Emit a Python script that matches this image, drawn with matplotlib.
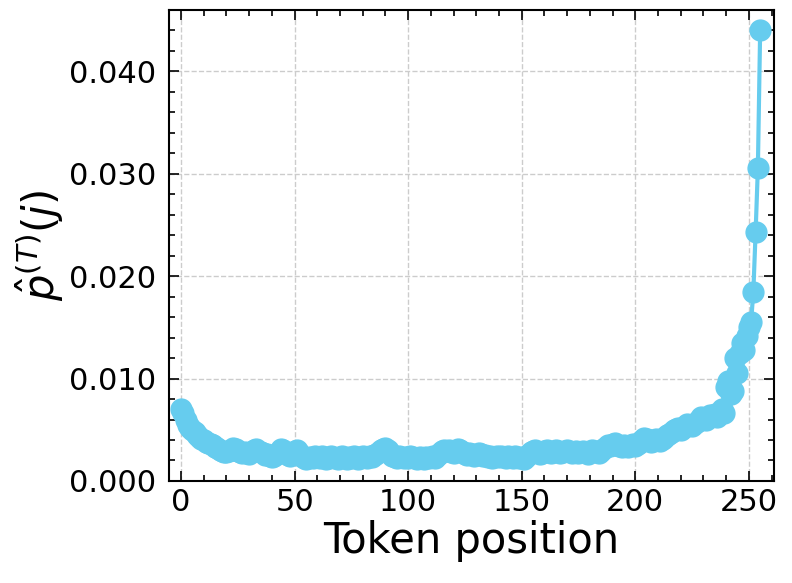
import numpy as np
import matplotlib
matplotlib.use("Agg")
import matplotlib.pyplot as plt
from matplotlib.ticker import MultipleLocator

positions = list(range(256))
probs = [
    0.0070, 0.0066, 0.0060, 0.0055, 0.0052, 0.0050, 0.0048, 0.0045, 0.0043, 0.0041,
    0.0040, 0.0038, 0.0037, 0.0036, 0.0035, 0.0033, 0.0032, 0.0030, 0.0029, 0.0028,
    0.0028, 0.0029, 0.0030, 0.0032, 0.0031, 0.0029, 0.0028, 0.0027, 0.0028, 0.0027,
    0.0026, 0.0028, 0.0030, 0.0031, 0.0029, 0.0028, 0.0027, 0.0025, 0.0026, 0.0024,
    0.0023, 0.0024, 0.0026, 0.0028, 0.0031, 0.0030, 0.0027, 0.0025, 0.0024, 0.0026,
    0.0029, 0.0030, 0.0027, 0.0024, 0.0022, 0.0021, 0.0022, 0.0023, 0.0022, 0.0024,
    0.0023, 0.0022, 0.0024, 0.0023, 0.0021, 0.0022, 0.0024, 0.0023, 0.0022, 0.0021,
    0.0023, 0.0024, 0.0022, 0.0021, 0.0023, 0.0022, 0.0024, 0.0023, 0.0021, 0.0022,
    0.0024, 0.0023, 0.0022, 0.0024, 0.0023, 0.0025, 0.0026, 0.0028, 0.0030, 0.0031,
    0.0032, 0.0030, 0.0027, 0.0024, 0.0023, 0.0022, 0.0024, 0.0023, 0.0022, 0.0023,
    0.0022, 0.0024, 0.0023, 0.0022, 0.0021, 0.0023, 0.0022, 0.0021, 0.0023, 0.0022,
    0.0023, 0.0024, 0.0022, 0.0025, 0.0027, 0.0029, 0.0030, 0.0029, 0.0030, 0.0028,
    0.0027, 0.0029, 0.0031, 0.0030, 0.0028, 0.0026, 0.0025, 0.0027, 0.0026, 0.0024,
    0.0025, 0.0027, 0.0026, 0.0024, 0.0025, 0.0023, 0.0024, 0.0022, 0.0023, 0.0024,
    0.0023, 0.0024, 0.0023, 0.0022, 0.0024, 0.0023, 0.0022, 0.0024, 0.0023, 0.0022,
    0.0023, 0.0021, 0.0023, 0.0026, 0.0028, 0.0029, 0.0030, 0.0028, 0.0026, 0.0027,
    0.0029, 0.0030, 0.0028, 0.0027, 0.0028, 0.0030, 0.0029, 0.0027, 0.0028, 0.0029,
    0.0030, 0.0029, 0.0027, 0.0028, 0.0029, 0.0027, 0.0028, 0.0029, 0.0028, 0.0026,
    0.0028, 0.0030, 0.0029, 0.0028, 0.0027, 0.0029, 0.0031, 0.0033, 0.0035, 0.0034,
    0.0036, 0.0037, 0.0035, 0.0034, 0.0033, 0.0035, 0.0034, 0.0033, 0.0035, 0.0036,
    0.0034, 0.0036, 0.0038, 0.0040, 0.0042, 0.0041, 0.0040, 0.0038, 0.0039, 0.0041,
    0.0040, 0.0039, 0.0041, 0.0043, 0.0045, 0.0046, 0.0048, 0.0050, 0.0051, 0.0052,
    0.0050, 0.0052, 0.0054, 0.0056, 0.0055, 0.0054, 0.0056, 0.0058, 0.0060, 0.0062,
    0.0061, 0.0060, 0.0062, 0.0064, 0.0063, 0.0065,
    0.0062, 0.0065, 0.0070, 0.0066, 0.0092, 0.0098, 0.0085, 0.0088, 0.0120, 0.0105,
    0.0125, 0.0135, 0.0128, 0.0142, 0.0150, 0.0155, 0.0185, 0.0243, 0.0306, 0.0440,
]

x_ticks = [0, 50, 100, 150, 200, 250]
y_ticks = [0.000, 0.010, 0.020, 0.030, 0.040]

fig = plt.figure(figsize=(7.92, 5.83), dpi=100)
ax = fig.add_axes([0.2134, 0.175, 0.7636, 0.808])

ax.plot(positions, probs, color="#66CCEE", lw=3, marker="o", ms=15, zorder=3)

ax.set_xlim(-5.3, 261)
ax.set_ylim(0, 0.046)
ax.set_xticks(x_ticks)
ax.set_yticks(y_ticks)
ax.set_yticklabels([f"{v:.3f}" for v in y_ticks])
ax.xaxis.set_minor_locator(MultipleLocator(10))
ax.yaxis.set_minor_locator(MultipleLocator(0.002))

ax.tick_params(which="both", direction="in", top=True, right=True, width=1.2)
ax.tick_params(which="major", length=7, labelsize=22)
ax.tick_params(which="minor", length=4)
ax.tick_params(axis="y", which="major", pad=9)
ax.tick_params(axis="x", which="major", pad=5)
for s in ax.spines.values():
    s.set_linewidth(1.5)

ax.grid(True, which="major", linestyle="--", color="#cccccc", linewidth=1)
ax.set_axisbelow(True)

ax.set_xlabel("Token position", fontsize=30, labelpad=2)
ax.set_ylabel(r"$\hat{p}^{(T)}(j)$", fontsize=30, labelpad=2)

fig.savefig("out.png", dpi=100)
